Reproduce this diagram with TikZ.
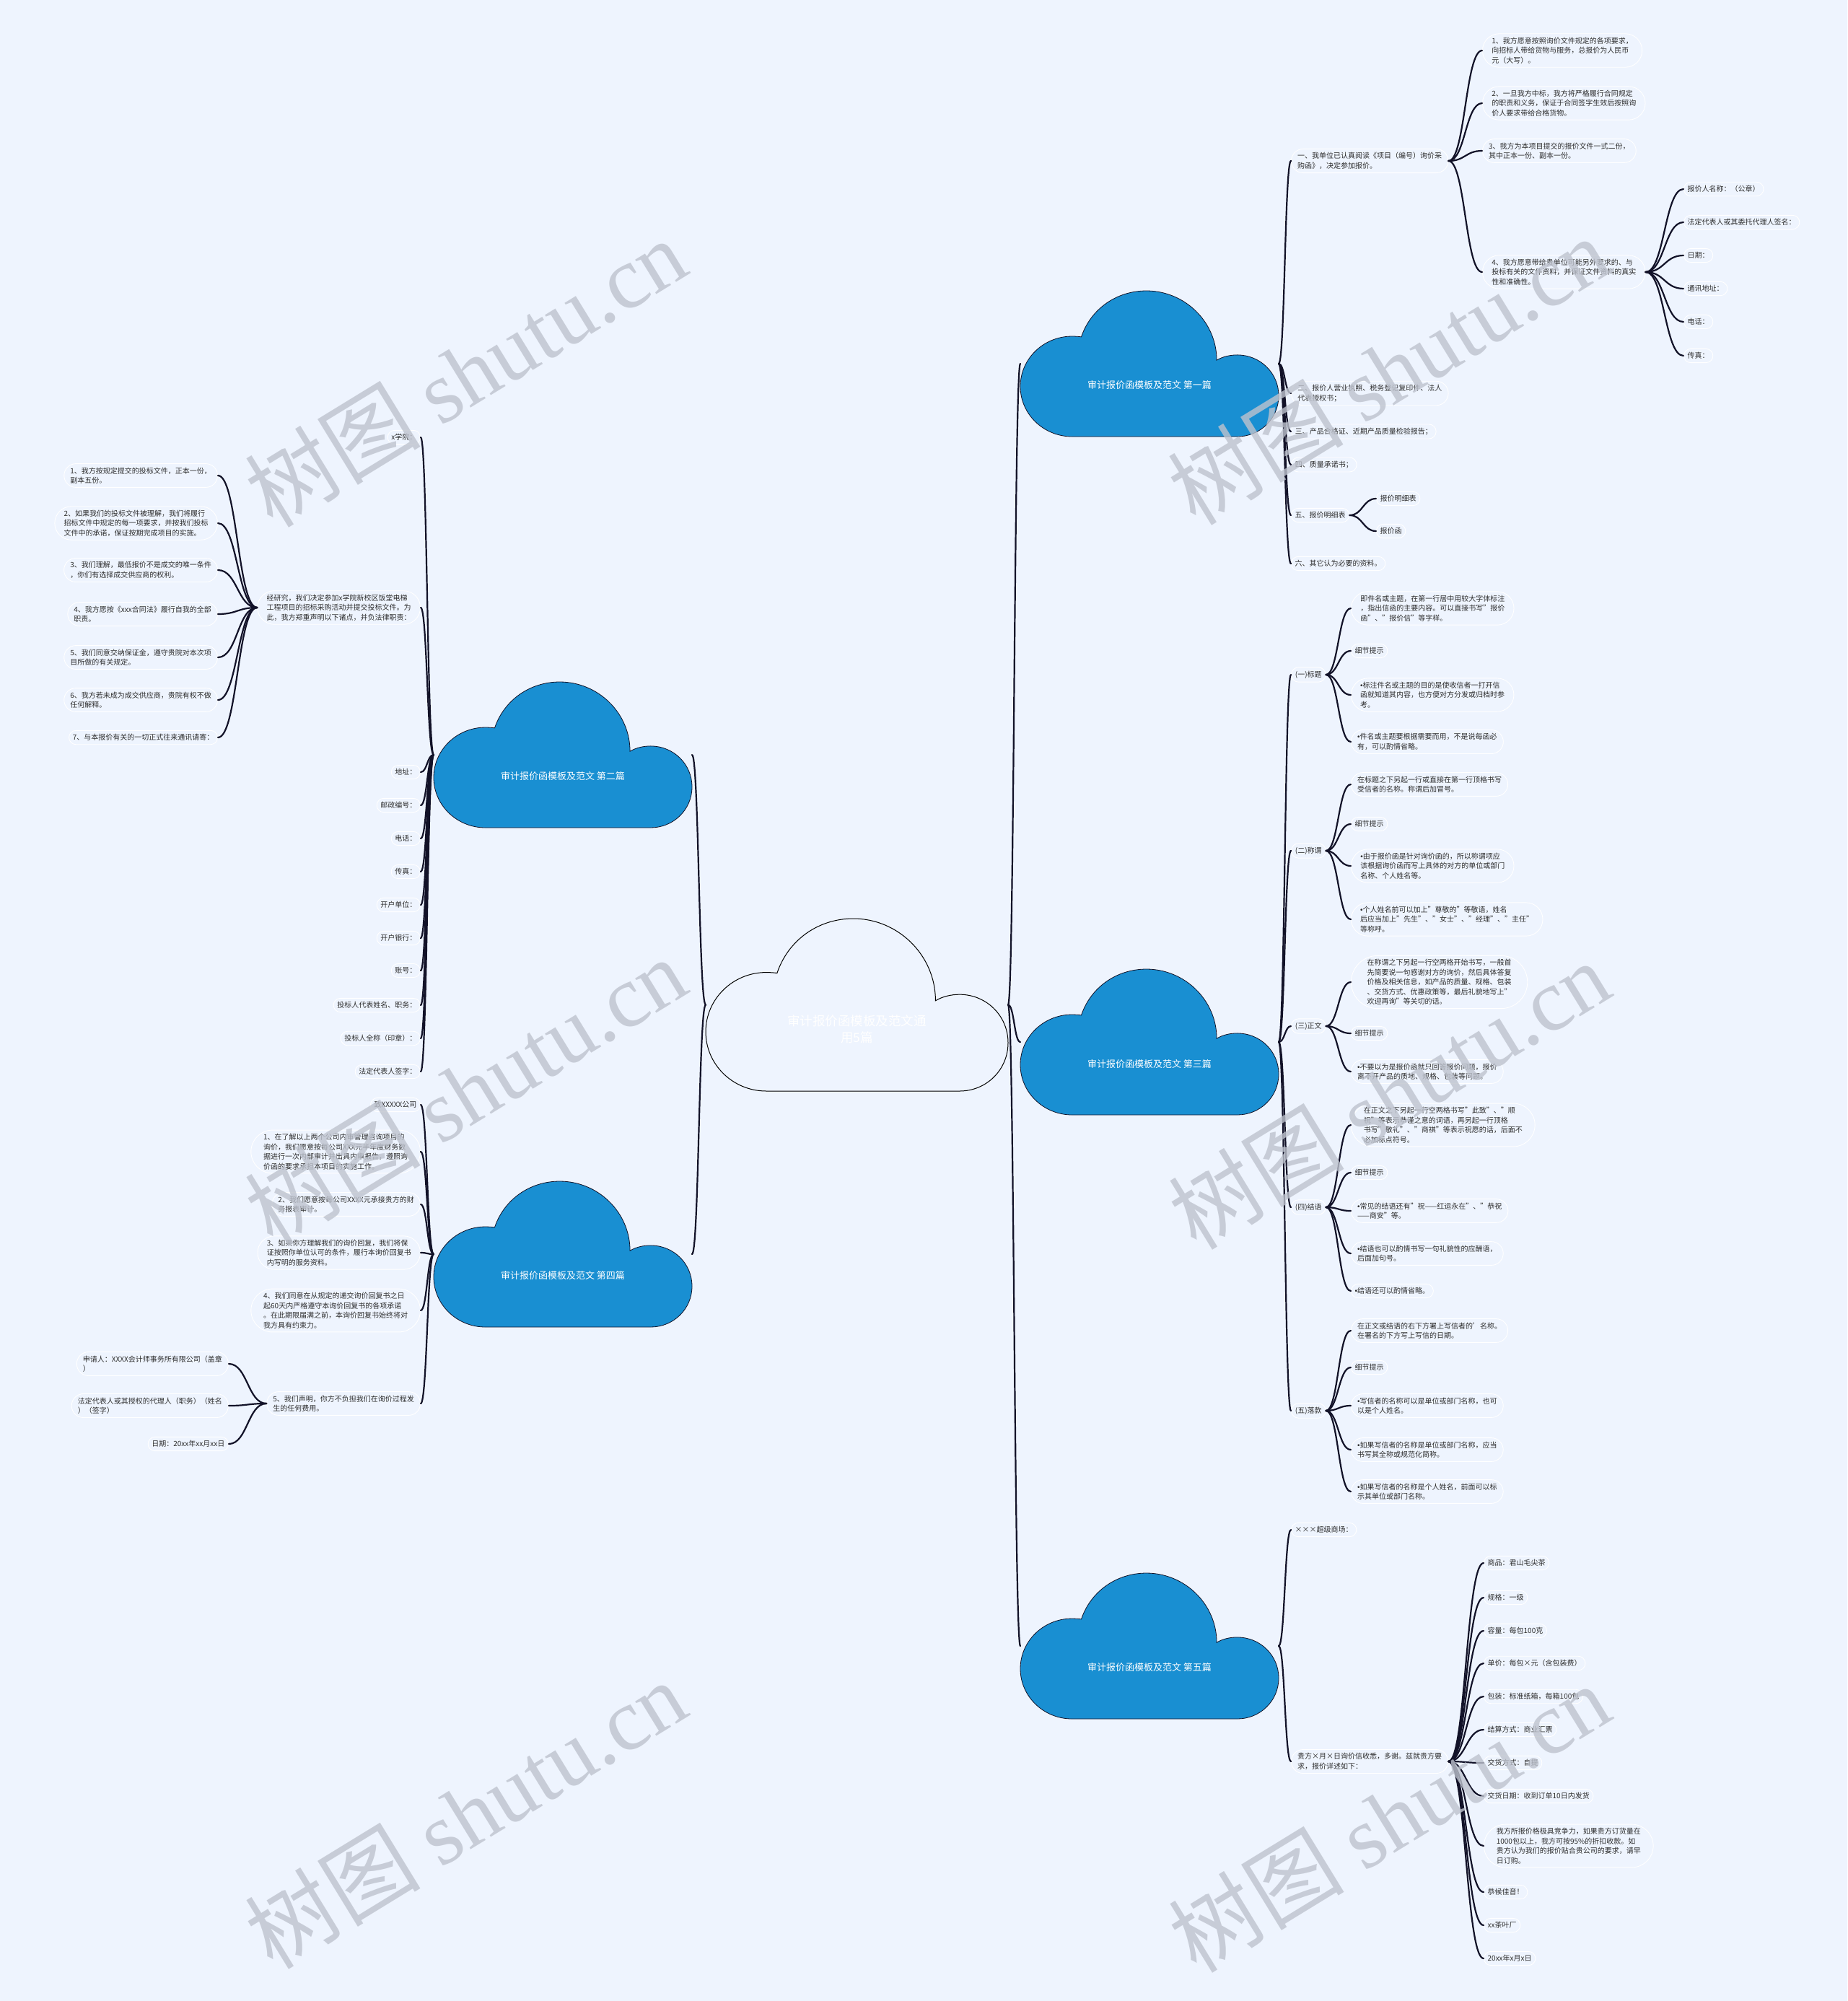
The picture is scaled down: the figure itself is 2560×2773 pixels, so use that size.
\documentclass[tikz,border=0pt]{standalone}
\usepackage{fontspec}
\setmainfont{Noto Sans CJK SC}
\newfontfamily\wmlat{Liberation Serif}
\newfontfamily\latf{Liberation Sans}
\newcommand\bl{{\latf •}}
\usetikzlibrary{shapes.misc,calc}
\definecolor{bgc}{RGB}{238,244,254}
\definecolor{cblue}{RGB}{25,143,210}
\definecolor{lnc}{RGB}{18,18,40}
\definecolor{txc}{RGB}{45,45,45}
\definecolor{wmc}{RGB}{190,195,206}
\tikzset{
 pill/.style={rounded rectangle, draw=white, line width=0.9pt, inner xsep=4pt, inner ysep=5pt, align=left, text=txc, font=\fontsize{10}{13.5}\selectfont},
 pl/.style={pill, anchor=west},
 pr/.style={pill, anchor=east},
 conn/.style={draw=lnc, line width=2.2pt, line cap=round},
 cbox/.style={rectangle, inner sep=0pt, outer sep=0pt},
 bluecloud/.style={fill=cblue, draw=lnc, line width=0.8pt},
 ctext/.style={text=white, font=\fontsize{13}{16}\selectfont},
 roottxt/.style={text=white, align=center, font=\fontsize{17.5}{23}\selectfont},
 wm/.style={text=wmc, opacity=0.8, rotate=31.5, font=\fontsize{122}{122}\selectfont},
}
\newcommand\drawcloud[4]{%
 \begin{scope}[shift={(#1.north west)}, x=#2pt, y=-#3pt]
 \draw[#4] (0.2,1) .. controls (0.09,1) and (0,0.846) .. (0,0.656)
  .. controls (0,0.466) and (0.09,0.312) .. (0.2,0.312)
  .. controls (0.215,0.312) and (0.228,0.314) .. (0.236,0.316)
  .. controls (0.273,0.123) and (0.373,0) .. (0.488,0)
  .. controls (0.636,0) and (0.76,0.212) .. (0.76,0.476)
  .. controls (0.784,0.451) and (0.812,0.44) .. (0.84,0.44)
  .. controls (0.928,0.44) and (1,0.563) .. (1,0.72)
  .. controls (1,0.877) and (0.928,1) .. (0.84,1) -- cycle;
 \end{scope}}
\newcommand\lnk[2]{\path (#1) -- coordinate[pos=0.5] (lnkm) (#2);
 \draw[conn] (#1) .. controls (lnkm |- #1) and (lnkm |- #2) .. (#2);}
\begin{document}
\begin{tikzpicture}[x=1pt,y=-1pt]
\useasboundingbox (0,0) rectangle (2560,2773);
\fill[bgc] (0,0) rectangle (2560,2773);

% ---------- clouds ----------
\node[cbox, minimum width=419pt, minimum height=239pt] (root) at (1187.5,1392.5) {};
\drawcloud{root}{419}{239}{fill=bgc, draw=black, line width=1pt}
\node[roottxt] (roott) at (1187.5,1426) {审计报价函模板及范文通\\用5篇};

\node[cbox, minimum width=358pt, minimum height=202pt] (c1) at (1593,504) {};
\drawcloud{c1}{358}{202}{bluecloud}
\node[ctext] (c1t) at (1593,534) {审计报价函模板及范文 第一篇};

\node[cbox, minimum width=358pt, minimum height=202pt] (c2) at (780,1046) {};
\drawcloud{c2}{358}{202}{bluecloud}
\node[ctext] (c2t) at (780,1076) {审计报价函模板及范文 第二篇};

\node[cbox, minimum width=358pt, minimum height=202pt] (c3) at (1593,1444) {};
\drawcloud{c3}{358}{202}{bluecloud}
\node[ctext] (c3t) at (1593,1475) {审计报价函模板及范文 第三篇};

\node[cbox, minimum width=358pt, minimum height=202pt] (c4) at (780,1738) {};
\drawcloud{c4}{358}{202}{bluecloud}
\node[ctext] (c4t) at (780,1768) {审计报价函模板及范文 第四篇};

\node[cbox, minimum width=358pt, minimum height=202pt] (c5) at (1593,2281) {};
\drawcloud{c5}{358}{202}{bluecloud}
\node[ctext] (c5t) at (1593,2311) {审计报价函模板及范文 第五篇};

% ---------- section 1 ----------
\node[pl] (A1) at (1789,223) {一、我单位已认真阅读《项目（编号）询价采\\购函》，决定参加报价。};
\node[pl] (A2) at (1789,545) {二、报价人营业执照、税务登记复印件、法人\\代表授权书；};
\node[pl] (A3) at (1789,598) {三、产品合格证、近期产品质量检验报告；};
\node[pl] (A4) at (1789,644) {四、质量承诺书；};
\node[pl] (A5) at (1789,714) {五、报价明细表};
\node[pl] (A6) at (1789,781) {六、其它认为必要的资料。};
\node[pl] (B1) at (2054,70) {1、我方愿意按照询价文件规定的各项要求，\\向招标人带给货物与服务，总报价为人民币\\元（大写）。};
\node[pl] (B2) at (2054,143) {2、一旦我方中标，我方将严格履行合同规定\\的职责和义务，保证于合同签字生效后按照询\\价人要求带给合格货物。};
\node[pl] (B3) at (2054,209) {3、我方为本项目提交的报价文件一式二份，\\其中正本一份、副本一份。};
\node[pl] (B4) at (2054,377) {4、我方愿意带给贵单位可能另外要求的、与\\投标有关的文件资料，并保证文件资料的真实\\性和准确性。};
\node[pl] (C1) at (2333,262) {报价人名称：（公章）};
\node[pl] (C2) at (2333,308) {法定代表人或其委托代理人签名：};
\node[pl] (C3) at (2333,354) {日期：};
\node[pl] (C4) at (2333,400) {通讯地址：};
\node[pl] (C5) at (2333,446) {电话：};
\node[pl] (C6) at (2333,493) {传真：};
\node[pl] (D1) at (1907,691) {报价明细表};
\node[pl] (D2) at (1907,736) {报价函};

% ---------- section 3 ----------
\node[pl] (E1) at (1789,935) {(一)标题};
\node[pl] (E2) at (1789,1179) {(二)称谓};
\node[pl] (E3) at (1789,1422) {(三)正文};
\node[pl] (E4) at (1789,1673) {(四)结语};
\node[pl] (E5) at (1789,1955) {(五)落款};
\node[pl] (F11) at (1872,843) {即件名或主题，在第一行居中用较大字体标注\\，指出信函的主要内容。可以直接书写"报价\\函"、"报价信"等字样。};
\node[pl] (F12) at (1872,902) {细节提示};
\node[pl] (F13) at (1872,963) {\bl 标注件名或主题的目的是使收信者一打开信\\函就知道其内容，也方便对方分发或归档时参\\考。};
\node[pl] (F14) at (1872,1028) {\bl 件名或主题要根据需要而用，不是说每函必\\有，可以酌情省略。};
\node[pl] (F21) at (1872,1087) {在标题之下另起一行或直接在第一行顶格书写\\受信者的名称。称谓后加冒号。};
\node[pl] (F22) at (1872,1142) {细节提示};
\node[pl] (F23) at (1872,1200) {\bl 由于报价函是针对询价函的，所以称谓项应\\该根据询价函而写上具体的对方的单位或部门\\名称、个人姓名等。};
\node[pl] (F24) at (1872,1274) {\bl 个人姓名前可以加上"尊敬的"等敬语，姓名\\后应当加上"先生"、"女士"、"经理"、"主任"\\等称呼。};
\node[pl] (F31) at (1872,1361) {在称谓之下另起一行空两格开始书写，一般首\\先简要说一句感谢对方的询价，然后具体答复\\价格及相关信息，如产品的质量、规格、包装\\、交货方式、优惠政策等，最后礼貌地写上"\\欢迎再询"等关切的话。};
\node[pl] (F32) at (1872,1432) {细节提示};
\node[pl] (F33) at (1872,1485) {\bl 不要以为是报价函就只回答报价问题，报价\\离不开产品的质地、规格、包装等问题。};
\node[pl] (F41) at (1872,1559) {在正文之下另起一行空两格书写"此致"、"顺\\祝"等表示恭谨之意的词语，再另起一行顶格\\书写"敬礼"、"商祺"等表示祝愿的话，后面不\\必加标点符号。};
\node[pl] (F42) at (1872,1625) {细节提示};
\node[pl] (F43) at (1872,1678) {\bl 常见的结语还有"祝——红运永在"、"恭祝\\——商安"等。};
\node[pl] (F44) at (1872,1737) {\bl 结语也可以酌情书写一句礼貌性的应酬语，\\后面加句号。};
\node[pl] (F45) at (1872,1789) {\bl 结语还可以酌情省略。};
\node[pl] (F51) at (1872,1844) {在正文或结语的右下方署上写信者的'名称。\\在署名的下方写上写信的日期。};
\node[pl] (F52) at (1872,1895) {细节提示};
\node[pl] (F53) at (1872,1948) {\bl 写信者的名称可以是单位或部门名称，也可\\以是个人姓名。};
\node[pl] (F54) at (1872,2009) {\bl 如果写信者的名称是单位或部门名称，应当\\书写其全称或规范化简称。};
\node[pl] (F55) at (1872,2067) {\bl 如果写信者的名称是个人姓名，前面可以标\\示其单位或部门名称。};

% ---------- section 5 ----------
\node[pl] (G1) at (1789,2120) {×××超级商场：};
\node[pl] (G2) at (1789,2441) {贵方×月×日询价信收悉，多谢。兹就贵方要\\求，报价详述如下：};
\node[pl] (H1) at (2056,2166) {商品：君山毛尖茶};
\node[pl] (H2) at (2056,2214) {规格：一级};
\node[pl] (H3) at (2056,2260) {容量：每包100克};
\node[pl] (H4) at (2056,2305) {单价：每包×元（含包装费）};
\node[pl] (H5) at (2056,2351) {包装：标准纸箱，每箱100包};
\node[pl] (H6) at (2056,2397) {结算方式：商业汇票};
\node[pl] (H7) at (2056,2443) {交货方式：自提};
\node[pl] (H8) at (2056,2489) {交货日期：收到订单10日内发货};
\node[pl] (H9) at (2056,2558) {我方所报价格极具竞争力，如果贵方订货量在\\1000包以上，我方可按95\%的折扣收款。如\\贵方认为我们的报价贴合贵公司的要求，请早\\日订购。};
\node[pl] (H10) at (2056,2622) {恭候佳音！};
\node[pl] (H11) at (2056,2668) {xx茶叶厂};
\node[pl] (H12) at (2056,2714) {20xx年x月x日};

% ---------- section 2 ----------
\node[pr] (K1) at (583,606) {x学院：};
\node[pr] (K2) at (583,842) {经研究，我们决定参加x学院新校区饭堂电梯\\工程项目的招标采购活动并提交投标文件。为\\此，我方郑重声明以下诸点，并负法律职责：};
\node[pr] (K3) at (583,1070) {地址：};
\node[pr] (K4) at (583,1116) {邮政编号：};
\node[pr] (K5) at (583,1162) {电话：};
\node[pr] (K6) at (583,1208) {传真：};
\node[pr] (K7) at (583,1254) {开户单位：};
\node[pr] (K8) at (583,1300) {开户银行：};
\node[pr] (K9) at (583,1345) {账号：};
\node[pr] (K10) at (583,1393) {投标人代表姓名、职务：};
\node[pr] (K11) at (583,1439) {投标人全称（印章）：};
\node[pr] (K12) at (583,1485) {法定代表人签字：};
\node[pr] (M1) at (302,659) {1、我方按规定提交的投标文件，正本一份，\\副本五份。};
\node[pr] (M2) at (302,725) {2、如果我们的投标文件被理解，我们将履行\\招标文件中规定的每一项要求，并按我们投标\\文件中的承诺，保证按期完成项目的实施。};
\node[pr] (M3) at (302,790) {3、我们理解，最低报价不是成交的唯一条件\\，你们有选择成交供应商的权利。};
\node[pr] (M4) at (302,851) {4、我方愿按《xxx合同法》履行自我的全部\\职责。};
\node[pr] (M5) at (302,911) {5、我们同意交纳保证金，遵守贵院对本次项\\目所做的有关规定。};
\node[pr] (M6) at (302,970) {6、我方若未成为成交供应商，贵院有权不做\\任何解释。};
\node[pr] (M7) at (302,1022) {7、与本报价有关的一切正式往来通讯请寄：};

% ---------- section 4 ----------
\node[pr] (L0) at (583,1531) {致XXXXX公司};
\node[pr] (L1) at (583,1596) {1、在了解以上两个公司内审管理咨询项目的\\询价，我们愿意按每公司XXX元半年度财务数\\据进行一次内部审计并出具内审报告，遵照询\\价函的要求承担本项目的实施工作。};
\node[pr] (L2) at (583,1669) {2、我们愿意按每公司XXXX元承接贵方的财\\务报表审计。};
\node[pr] (L3) at (583,1736) {3、如果你方理解我们的询价回复，我们将保\\证按照你单位认可的条件，履行本询价回复书\\内写明的服务资料。};
\node[pr] (L4) at (583,1816) {4、我们同意在从规定的递交询价回复书之日\\起60天内严格遵守本询价回复书的各项承诺\\。在此期限届满之前，本询价回复书始终将对\\我方具有约束力。};
\node[pr] (L5) at (583,1945) {5、我们声明，你方不负担我们在询价过程发\\生的任何费用。};
\node[pr] (P1) at (317,1890) {申请人：XXXX会计师事务所有限公司（盖章\\）};
\node[pr] (P2) at (317,1948) {法定代表人或其授权的代理人（职务）（姓名\\）（签字）};
\node[pr] (P3) at (317,2001) {日期：20xx年xx月xx日};

% ---------- connectors ----------
\lnk{root.east}{c1.west}
\lnk{root.east}{c3.west}
\lnk{root.east}{c5.west}
\lnk{root.west}{c2.east}
\lnk{root.west}{c4.east}
\foreach \n in {A1,A2,A3,A4,A5,A6} {\lnk{c1.east}{\n.west}}
\foreach \n in {B1,B2,B3,B4} {\lnk{A1.east}{\n.west}}
\foreach \n in {C1,C2,C3,C4,C5,C6} {\lnk{B4.east}{\n.west}}
\foreach \n in {D1,D2} {\lnk{A5.east}{\n.west}}
\foreach \n in {E1,E2,E3,E4,E5} {\lnk{c3.east}{\n.west}}
\foreach \n in {F11,F12,F13,F14} {\lnk{E1.east}{\n.west}}
\foreach \n in {F21,F22,F23,F24} {\lnk{E2.east}{\n.west}}
\foreach \n in {F31,F32,F33} {\lnk{E3.east}{\n.west}}
\foreach \n in {F41,F42,F43,F44,F45} {\lnk{E4.east}{\n.west}}
\foreach \n in {F51,F52,F53,F54,F55} {\lnk{E5.east}{\n.west}}
\foreach \n in {G1,G2} {\lnk{c5.east}{\n.west}}
\foreach \n in {H1,H2,H3,H4,H5,H6,H7,H8,H9,H10,H11,H12} {\lnk{G2.east}{\n.west}}
\foreach \n in {K1,K2,K3,K4,K5,K6,K7,K8,K9,K10,K11,K12} {\lnk{c2.west}{\n.east}}
\foreach \n in {M1,M2,M3,M4,M5,M6,M7} {\lnk{K2.west}{\n.east}}
\foreach \n in {L0,L1,L2,L3,L4,L5} {\lnk{c4.west}{\n.east}}
\foreach \n in {P1,P2,P3} {\lnk{L5.west}{\n.east}}

% ---------- watermarks ----------
\node[wm] (w1) at (645,516) {树图 {\wmlat shutu.cn}};
\node[wm] (w2) at (1924,513) {树图 {\wmlat shutu.cn}};
\node[wm] (w3) at (645,1512) {树图 {\wmlat shutu.cn}};
\node[wm] (w4) at (1925,1517) {树图 {\wmlat shutu.cn}};
\node[wm] (w5) at (645,2514) {树图 {\wmlat shutu.cn}};
\node[wm] (w6) at (1925,2519) {树图 {\wmlat shutu.cn}};
\end{tikzpicture}
\end{document}
